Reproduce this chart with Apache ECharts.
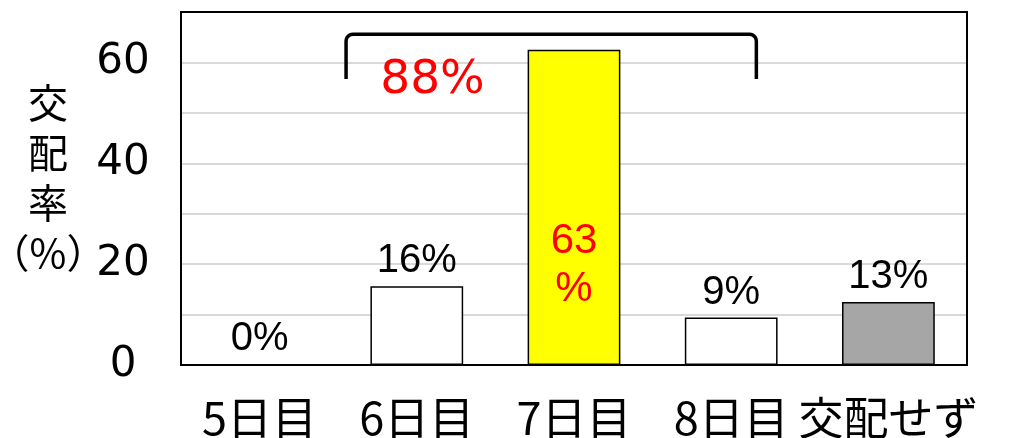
<!DOCTYPE html>
<html>
<head>
<meta charset="utf-8">
<script src="https://cdn.jsdelivr.net/npm/echarts@6/dist/echarts.min.js"></script>
<style>html,body{margin:0;padding:0;background:#fff}#c{width:1013px;height:438px}</style>
</head>
<body>
<div id="c"></div>
<script>
const categories = ['5日目', '6日目', '7日目', '8日目', '交配せず'];
const values = [0, 15.6, 62.5, 9.4, 12.5];
const valueLabels = ['0%', '16%', '63\n%', '9%', '13%'];
const barColors = ['#ffffff', '#ffffff', '#ffff00', '#ffffff', '#a6a6a6'];
const yTickLabels = [0, 20, 40, 60];
const yAxisTitle = '交\n配\n率\n（%）';
const bracketSpan = [0.55, 3.16];      // category positions
const bracketLevels = [56.7, 65.6];    // value positions (bottom, top)
const totalText = '88%';
const totalAt = [1.1, 56.3];

const chart = echarts.init(document.getElementById('c'), null, {renderer: 'canvas'});

const data = values.map((v, i) => {
  const item = {
    value: v,
    itemStyle: {color: barColors[i], borderColor: '#000', borderWidth: 1.5},
    label: {formatter: valueLabels[i]}
  };
  if (i === 2) {
    item.label = {
      formatter: valueLabels[i], position: 'inside', offset: [0, 58],
      color: '#ff0000', fontSize: 42, lineHeight: 48,
      fontFamily: 'Liberation Sans, Arial, sans-serif'
    };
  }
  return item;
});

chart.setOption({
  animation: false,
  grid: {left: 181, right: 46, top: 12, bottom: 73, show: true, borderColor: '#000', borderWidth: 2, backgroundColor: 'transparent', z: 5, containLabel: false, outerBoundsMode: 'none'},
  xAxis: {
    type: 'category', data: categories,
    axisLine: {show: true, lineStyle: {color: '#000', width: 2}},
    axisTick: {show: false},
    axisLabel: {color: '#000', fontSize: 45, margin: 30, interval: 0, fontFamily: 'Noto Sans CJK JP, sans-serif'}
  },
  yAxis: {
    type: 'value', min: 0, max: 70, interval: 10,
    axisLine: {show: true, lineStyle: {color: '#000', width: 2}},
    axisTick: {show: false},
    splitLine: {show: true, lineStyle: {color: '#d9d9d9', width: 2}},
    axisLabel: {
      color: '#000', fontSize: 42, margin: 58, align: 'center',
      fontFamily: 'DejaVu Sans, sans-serif',
      formatter: v => yTickLabels.indexOf(v) >= 0 ? String(v) : ''
    }
  },
  series: [{
    type: 'bar', data: data, barWidth: '59%',
    label: {show: true, position: 'top', distance: 5, color: '#000', fontSize: 40, fontFamily: 'Liberation Sans, Arial, sans-serif'}
  }]
});

function px(cat, val) {
  const p0 = chart.convertToPixel({xAxisIndex: 0, yAxisIndex: 0}, [0, val]);
  const p1 = chart.convertToPixel({xAxisIndex: 0, yAxisIndex: 0}, [1, val]);
  return [p0[0] + (p1[0] - p0[0]) * cat, p0[1]];
}
const bl = px(bracketSpan[0], bracketLevels[0]);
const tl = px(bracketSpan[0], bracketLevels[1]);
const br = px(bracketSpan[1], bracketLevels[0]);
const r = 7;
const pts = [[bl[0], bl[1]], [tl[0], tl[1] + r]];
for (let k = 1; k <= 6; k++) {
  const a = Math.PI - (Math.PI / 2) * k / 6;
  pts.push([tl[0] + r + r * Math.cos(a), tl[1] + r - r * Math.sin(a)]);
}
pts.push([br[0] - r, tl[1]]);
for (let k = 1; k <= 6; k++) {
  const a = Math.PI / 2 - (Math.PI / 2) * k / 6;
  pts.push([br[0] - r + r * Math.cos(a), tl[1] + r - r * Math.sin(a)]);
}
pts.push([br[0], br[1]]);
const tp = px(totalAt[0], totalAt[1]);

chart.setOption({
  graphic: [
    {type: 'polyline', shape: {points: pts}, style: {stroke: '#000', lineWidth: 3.5, fill: null, lineJoin: 'round'}, z: 10},
    {type: 'text', x: tp[0], y: tp[1], style: {text: totalText, fill: '#ff0000', fontSize: 47, fontFamily: 'DejaVu Sans, sans-serif', align: 'center', verticalAlign: 'middle'}, z: 10},
    {type: 'text', x: 48, y: 178, style: {text: yAxisTitle, fill: '#000', fontSize: 40, lineHeight: 50, fontFamily: 'Noto Sans CJK JP, sans-serif', align: 'center', verticalAlign: 'middle'}, z: 10}
  ]
});
</script>
</body>
</html>
